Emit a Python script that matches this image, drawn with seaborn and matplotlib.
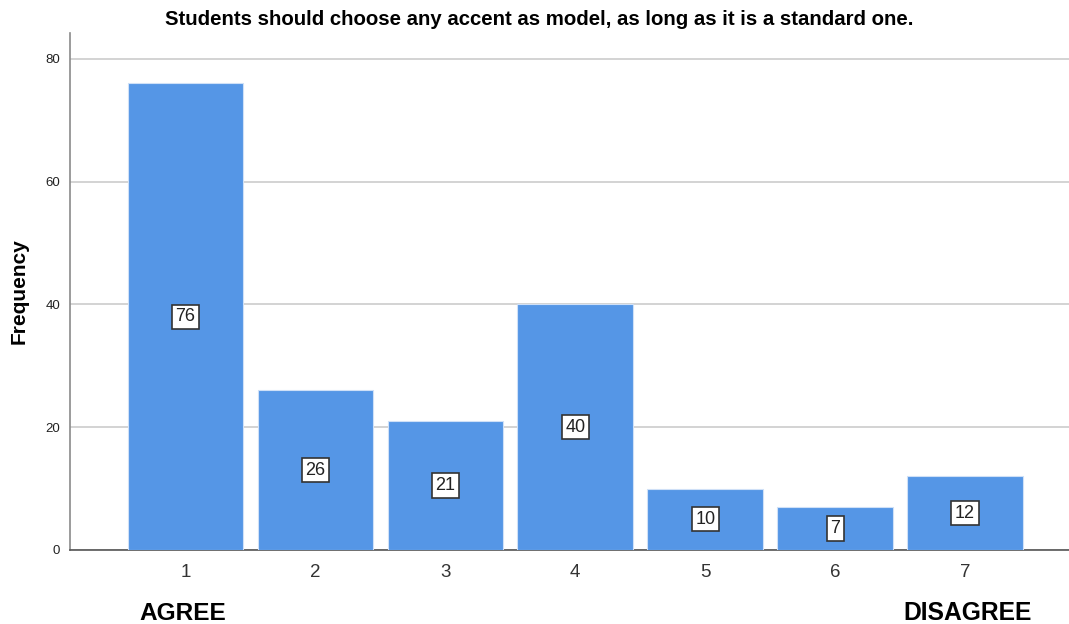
import matplotlib
matplotlib.use("Agg")
import matplotlib.pyplot as plt
import seaborn as sns
import pandas as pd

# Response scale (1 = agree ... 7 = disagree) and counts
categories = ["1", "2", "3", "4", "5", "6", "7"]
frequencies = [76, 26, 21, 40, 10, 7, 12]
y_ticks = [0, 20, 40, 60, 80]

title = "Students should choose any accent as model, as long as it is a standard one."

df = pd.DataFrame({"response": categories, "count": frequencies})

sns.set_theme(style="white")
plt.rcParams["font.family"] = ["Liberation Sans", "DejaVu Sans"]

fig = plt.figure(figsize=(10.69, 6.24), dpi=100)
ax = fig.add_axes([0.0655, 0.1186, 0.9345, 0.8284])

sns.barplot(data=df, x="response", y="count", order=categories,
            color="#5596e6", saturation=1, width=0.89,
            edgecolor="#cfe0f7", linewidth=0.8, ax=ax, zorder=3)

ax.set_xlim(-0.889, 6.8)
ax.set_ylim(0, 84.2)
ax.set_yticks(y_ticks)
ax.set_yticklabels([str(t) for t in y_ticks], fontsize=9.5, color="#222222")
ax.yaxis.grid(True, color="#d0d0d0", linewidth=1.3, zorder=0)
ax.xaxis.grid(False)
ax.tick_params(axis="x", labelsize=13.5, colors="#333333", length=0, pad=10)
ax.tick_params(axis="y", length=0, pad=7)

for side in ["top", "right"]:
    ax.spines[side].set_visible(False)
ax.spines["left"].set_color("#8a8a8a")
ax.spines["left"].set_linewidth(1.2)
ax.spines["bottom"].set_color("#555555")
ax.spines["bottom"].set_linewidth(1.2)

ax.set_xlabel("")
ax.set_ylabel("Frequency", fontsize=15, fontweight="bold", color="black", labelpad=12)

# Count labels placed at the middle of each bar
for i, v in enumerate(frequencies):
    ax.text(i, v / 2, str(v), ha="center", va="center", fontsize=13, color="#222222",
            zorder=5,
            bbox=dict(boxstyle="square,pad=0.2", facecolor="white",
                      edgecolor="#333333", linewidth=1.2))

fig.text(0.504, 0.968, title, ha="center", va="center",
         fontsize=14.7, fontweight="bold", color="black")

# End-point anchors of the scale
ax.text(-0.02, -10.3, "AGREE", ha="center", va="center", fontsize=17.6,
        fontweight="bold", color="black")
ax.text(6.02, -10.3, "DISAGREE", ha="center", va="center", fontsize=17.7,
        fontweight="bold", color="black")

fig.savefig("out.png", dpi=100)
